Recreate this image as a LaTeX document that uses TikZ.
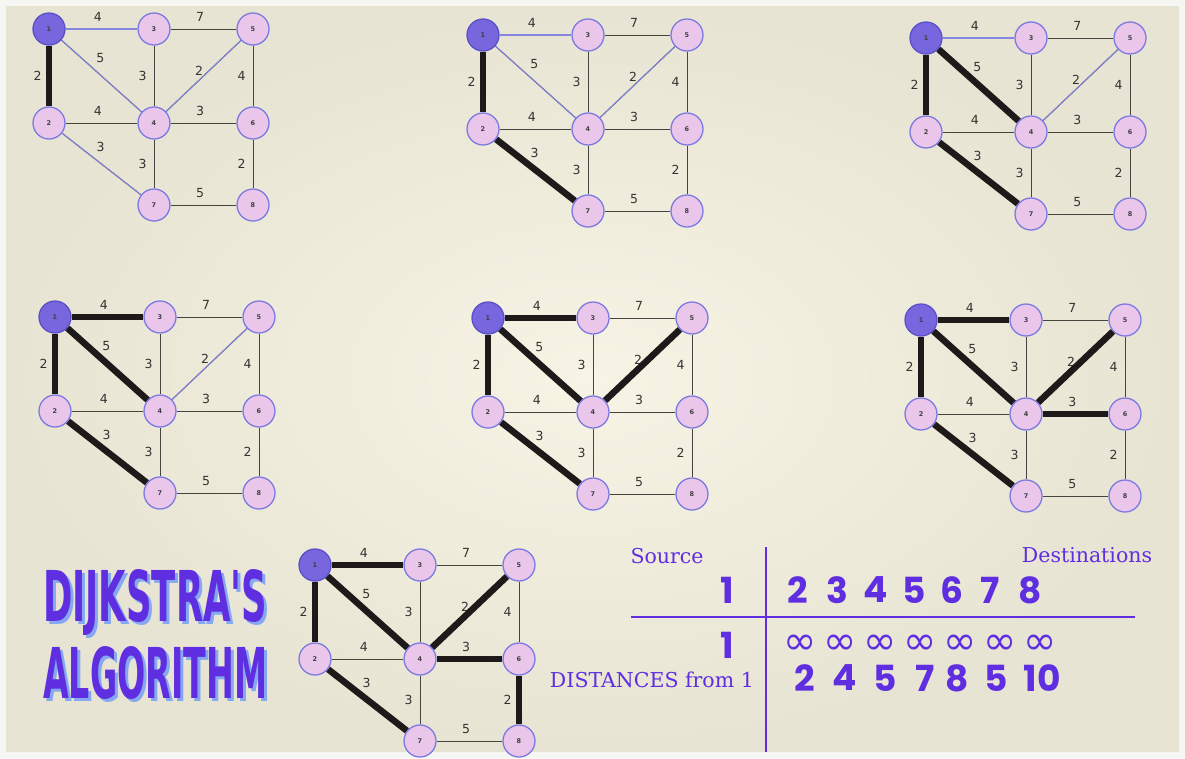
\documentclass[tikz,border=0pt]{standalone}
\usepackage{fontspec}
\usepackage{graphicx}
\usepackage{tikz}

\newfontfamily\numfont{Poppins}
\newfontfamily\symfont{DejaVu Sans}
\newfontfamily\txtfont{DejaVu Serif}
\newfontfamily\titlefont{DejaVu Sans Condensed}
\newfontfamily\wfont{DejaVu Sans}

\definecolor{paperin}{HTML}{F8F4E5}
\definecolor{paperout}{HTML}{E8E4D3}
\definecolor{rim}{HTML}{F6F6F3}
\definecolor{ink}{HTML}{5F2EE0}
\definecolor{inkshade}{HTML}{86A8F2}
\definecolor{nodefill}{HTML}{E9C6EA}
\definecolor{nodeline}{HTML}{7C7AE2}
\definecolor{srcfill}{HTML}{7766DD}
\definecolor{srcline}{HTML}{5A50C8}
\definecolor{thin}{HTML}{45453F}
\definecolor{hotblue}{HTML}{8686DC}
\definecolor{treeblack}{HTML}{1E1A1A}
\definecolor{wlabel}{HTML}{333333}

\pgfdeclarelayer{paper}
\pgfdeclarelayer{lines}
\pgfsetlayers{paper,lines,main}

\newcommand{\dgraph}[3]{%
\begin{scope}[shift={#2}]
\foreach \n/\x/\y/\s in {1/0/0/src,3/105/0/vtx,5/204/0/vtx,2/0/94/vtx,4/105/94/vtx,6/204/94/vtx,7/105/176/vtx,8/204/176/vtx}
  \node[\s] (#1\n) at (\x,\y) {\n};
\begin{pgfonlayer}{lines}
\foreach \u/\v/\w/\p in {1/3/4/ab,3/5/7/ab,1/2/2/lf,1/4/5/ar,3/4/3/lf,4/5/2/al,5/6/4/lf,2/4/4/ab,4/6/3/ab,2/7/3/ar,4/7/3/lf,6/8/2/lf,7/8/5/ab}
  \draw[edge] (#1\u) -- node[\p] {\w} (#1\v);
\foreach \u/\v/\s in {#3}
  \draw[\s] (#1\u) -- (#1\v);
\end{pgfonlayer}
\end{scope}}

\newcommand{\ttltext}[1]{\rlap{\kern3pt\raisebox{-3pt}{\color{inkshade}\resizebox{224pt}{52pt}{\titlefont\bfseries #1}}}\resizebox{224pt}{52pt}{\titlefont\bfseries #1}}

\begin{document}
\begin{tikzpicture}[x=1pt,y=-1pt,
  vtx/.style={circle,minimum size=32pt,inner sep=0pt,fill=nodefill,draw=nodeline,line width=1.3pt,
    font=\wfont\bfseries\fontsize{6.5}{6.5}\selectfont,text=black!75},
  src/.style={vtx,fill=srcfill,draw=srcline},
  edge/.style={draw=thin,line width=1pt},
  hot/.style={draw=hotblue,line width=1.1pt},
  tree/.style={draw=treeblack,line width=6.5pt},
  wt/.style={font=\wfont\fontsize{12.5}{12.5}\selectfont,text=wlabel,inner sep=1pt},
  ab/.style={wt,pos=.45,above=6pt},
  lf/.style={wt,left=6pt},
  ar/.style={wt,pos=.38,above right=3pt},
  al/.style={wt,pos=.5,anchor=south east,inner sep=0pt},
  tab/.style={draw=ink,line width=2.4pt},
  txt/.style={text=ink,font=\txtfont\fontsize{20.5}{20.5}\selectfont,inner sep=0pt},
  big/.style={text=ink,font=\numfont\bfseries\fontsize{36}{36}\selectfont,inner sep=0pt},
  inf/.style={text=ink,font=\symfont\fontsize{40}{40}\selectfont,inner sep=0pt},
  ttl/.style={text=ink,inner sep=0pt,anchor=west}]
\useasboundingbox (0,0) rectangle (1185,758);
\begin{pgfonlayer}{paper}
\fill[rim] (0,0) rectangle (1185,758);
\shade[inner color=paperin,outer color=paperout] (6,6) rectangle (1179,751);
\end{pgfonlayer}

\dgraph{a}{(49,29)}{1/3/hot,1/4/hot,4/5/hot,2/7/hot,1/2/tree}
\dgraph{b}{(483,35)}{1/3/hot,1/4/hot,4/5/hot,1/2/tree,2/7/tree}
\dgraph{c}{(926,38)}{1/3/hot,4/5/hot,1/2/tree,2/7/tree,1/4/tree}
\dgraph{d}{(55,317)}{4/5/hot,1/2/tree,2/7/tree,1/4/tree,1/3/tree}
\dgraph{e}{(488,318)}{1/2/tree,2/7/tree,1/4/tree,1/3/tree,4/5/tree}
\dgraph{f}{(921,320)}{1/2/tree,2/7/tree,1/4/tree,1/3/tree,4/5/tree,4/6/tree}
\dgraph{g}{(315,565)}{1/2/tree,2/7/tree,1/4/tree,1/3/tree,4/5/tree,4/6/tree,6/8/tree}

\node[ttl] (t1) at (43,604) {\ttltext{DIJKSTRA'S}};
\node[ttl] (t2) at (43,674) {\ttltext{ALGORITHM}};

\coordinate (vt) at (766,547);
\coordinate (vb) at (766,752);
\coordinate (hl) at (631,617);
\coordinate (hr) at (1135,617);
\draw[tab] (vt) -- (vb);
\draw[tab] (hl) -- (hr);

\node[txt] (source) at (667,556) {Source};
\node[txt] (dest) at (1087,555) {Destinations};
\node[txt,anchor=east] (dist) at (754,680) {DISTANCES from 1};
\node[big] (s1) at (727,590) {1};
\node[big] (s2) at (727,645) {1};
\foreach \d/\x in {2/798,3/837,4/876,5/914,6/952,7/990,8/1030}
  \node[big] (top\d) at (\x,590) {\d};
\foreach \i in {0,...,6}
  \node[inf] (inf\i) at (800+40*\i,645) {∞};
\foreach \d/\x/\k in {2/805/2,4/845/3,5/885/4,7/925/5,8/957/6,5/996/7,10/1042/8}
  \node[big] (dist\k) at (\x,678) {\d};
\end{tikzpicture}
\end{document}
